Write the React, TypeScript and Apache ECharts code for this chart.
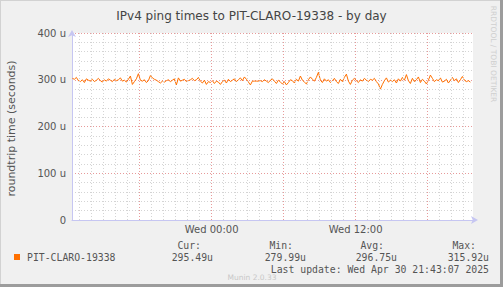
import React, { useEffect, useRef } from "react";
import * as echarts from "echarts";

// Time axis in hours relative to Wed 00:00
const axisMinHour = -11.633;
const axisMaxHour = 21.783;
const dataStartHour = -11.6;
const dataStepHour = 1 / 6;

// roundtrip time in microseconds, one value every 10 minutes
const pingValues: number[] = [
  303, 301, 305, 298, 296, 300, 294, 302, 299, 297, 301, 296, 299, 303, 298, 295, 300, 297, 302, 299,
  296, 301, 298, 300, 304, 297, 299, 295, 301, 308, 290, 296, 302, 313, 299, 297, 300, 294, 298, 309,
  304, 301, 299, 296, 293, 297, 295, 298, 300, 296, 299, 302, 289, 304, 297, 299, 301, 296, 298, 300,
  303, 298, 300, 305, 297, 293, 299, 290, 296, 294, 298, 292, 297, 295, 290, 296, 299, 293, 301, 296,
  299, 302, 296, 300, 304, 298, 306, 301, 295, 289, 297, 297, 297, 297, 298, 296, 300, 297, 294, 299,
  302, 297, 292, 299, 295, 291, 296, 289, 294, 300, 298, 293, 301, 297, 308, 299, 295, 291, 300, 306,
  301, 297, 305, 316, 299, 294, 302, 297, 300, 294, 298, 303, 296, 292, 301, 296, 305, 312, 297, 290,
  299, 303, 298, 294, 300, 297, 303, 299, 296, 301, 299, 303, 296, 291, 280, 290, 298, 304, 295, 299,
  296, 300, 293, 302, 297, 305, 299, 311, 298, 292, 303, 296, 300, 306, 294, 301, 297, 291, 299, 310,
  303, 296, 300, 298, 304, 295, 297, 301, 293, 299, 305, 298, 302, 294, 300, 307, 299, 296, 298, 295,
];

const minorHours: number[] = [
  -11, -10, -9, -8, -7, -5, -4, -3, -2, -1, 1, 2, 3, 4, 5, 7, 8, 9, 10, 11,
  13, 14, 15, 16, 17, 19, 20, 21,
];
const majorHours: number[] = [-6, 0, 6, 12, 18];
const xLabelHours: number[] = [0, 12];
const xLabelTexts: string[] = ["Wed 00:00", "Wed 12:00"];

const yTickValues: number[] = [0, 100, 200, 300, 400];
const yTickLabels: string[] = ["0", "100 u", "200 u", "300 u", "400 u"];

const titleText = "IPv4 ping times to PIT-CLARO-19338 - by day";
const yAxisTitle = "roundtrip time (seconds)";
const seriesName = "PIT-CLARO-19338";
const statHeaders: string[] = ["Cur:", "Min:", "Avg:", "Max:"];
const statValues: string[] = ["295.49u", "279.99u", "296.75u", "315.92u"];
const lastUpdate = "Last update: Wed Apr 30 21:43:07 2025";
const muninVersion = "Munin 2.0.33";
const rrdCredit = "RRDTOOL / TOBI OETIKER";

const LINE_COLOR = "#ff7000";
const MONO = "'DejaVu Sans Mono', monospace";
const SANS = "'DejaVu Sans', sans-serif";

export default function App() {
  const ref = useRef<HTMLDivElement>(null);

  useEffect(() => {
    if (!ref.current) return;
    const chart = echarts.init(ref.current, undefined, { renderer: "svg" });

    const seriesData = pingValues.map((v, i) => [dataStartHour + i * dataStepHour, v]);

    const gridMarks: any[] = [
      ...minorHours.map((h) => ({
        xAxis: h,
        lineStyle: { color: "#d4d4d4", type: [1, 2], width: 1 },
        label: { show: false },
      })),
      ...majorHours.map((h) => {
        const li = xLabelHours.indexOf(h);
        return {
          xAxis: h,
          lineStyle: { color: "#e79a9a", type: [1, 2], width: 1 },
          label:
            li >= 0
              ? {
                  show: true,
                  position: "start",
                  formatter: xLabelTexts[li],
                  color: "#555",
                  fontFamily: SANS,
                  fontSize: 10,
                  distance: 4,
                }
              : { show: false },
        };
      }),
    ];

    const statRightEdges = [213, 306, 397, 489];
    const headerRightEdges = [201, 293, 384, 476];

    const graphics: any[] = [
      { type: "rect", shape: { x: 0, y: 0, width: 503, height: 1 }, style: { fill: "#d2d2d2" }, silent: true },
      { type: "rect", shape: { x: 0, y: 0, width: 1, height: 287 }, style: { fill: "#d2d2d2" }, silent: true },
      { type: "rect", shape: { x: 500, y: 0, width: 3, height: 287 }, style: { fill: "#9c9c9c" }, silent: true },
      { type: "rect", shape: { x: 0, y: 284, width: 503, height: 3 }, style: { fill: "#9c9c9c" }, silent: true },
      {
        type: "text",
        x: 11,
        y: 128.5,
        rotation: Math.PI / 2,
        style: {
          text: yAxisTitle,
          fill: "#555",
          font: `11px ${SANS}`,
          textAlign: "center",
          textVerticalAlign: "middle",
        },
      },
      {
        type: "text",
        x: 493,
        y: 54,
        rotation: -Math.PI / 2,
        style: {
          text: rrdCredit,
          fill: "#cfcfcf",
          font: `7.5px ${SANS}`,
          textAlign: "center",
          textVerticalAlign: "middle",
        },
      },
      { type: "rect", shape: { x: 14, y: 254, width: 6, height: 6 }, style: { fill: LINE_COLOR } },
      {
        type: "text",
        x: 27,
        y: 257,
        style: { text: seriesName, fill: "#555", font: `9.8px ${MONO}`, textVerticalAlign: "middle" },
      },
      ...statHeaders.map((t, i) => ({
        type: "text",
        x: headerRightEdges[i],
        y: 245,
        style: { text: t, fill: "#555", font: `9.8px ${MONO}`, textAlign: "right", textVerticalAlign: "middle" },
      })),
      ...statValues.map((t, i) => ({
        type: "text",
        x: statRightEdges[i],
        y: 257,
        style: { text: t, fill: "#555", font: `9.8px ${MONO}`, textAlign: "right", textVerticalAlign: "middle" },
      })),
      {
        type: "text",
        x: 489,
        y: 269,
        style: { text: lastUpdate, fill: "#555", font: `9.8px ${MONO}`, textAlign: "right", textVerticalAlign: "middle" },
      },
      {
        type: "text",
        x: 252,
        y: 277,
        style: { text: muninVersion, fill: "#c8c8c8", font: `7.5px ${SANS}`, textAlign: "center", textVerticalAlign: "middle" },
      },
    ];

    chart.setOption({
      animation: false,
      backgroundColor: "#f0f0f0",
      title: {
        text: titleText,
        left: "center",
        top: 5,
        textStyle: { color: "#444", fontFamily: SANS, fontSize: 12, fontWeight: "normal" },
      },
      grid: {
        left: 72,
        top: 33,
        width: 401,
        height: 187,
        show: true,
        backgroundColor: "#ffffff",
        borderWidth: 0,
      },
      xAxis: {
        type: "value",
        min: axisMinHour,
        max: axisMaxHour,
        axisLine: {
          show: true,
          onZero: false,
          lineStyle: { color: "#c6c6f2", width: 1 },
          symbol: ["none", "arrow"],
          symbolSize: [6, 7],
          symbolOffset: [0, 5],
        },
        axisTick: { show: false },
        axisLabel: { show: false },
        splitLine: { show: false },
      },
      yAxis: {
        type: "value",
        min: 0,
        max: 400,
        interval: 20,
        axisLine: {
          show: true,
          onZero: false,
          lineStyle: { color: "#c6c6f2", width: 1 },
          symbol: ["none", "arrow"],
          symbolSize: [6, 7],
          symbolOffset: [0, 3],
        },
        axisTick: { show: false },
        axisLabel: {
          color: "#555",
          fontFamily: SANS,
          fontSize: 10,
          margin: 6,
          formatter: (v: number) => {
            const idx = yTickValues.indexOf(v);
            return idx >= 0 ? yTickLabels[idx] : "";
          },
        },
        splitLine: {
          show: true,
          lineStyle: {
            color: ["#e79a9a", "#d4d4d4", "#d4d4d4", "#d4d4d4", "#d4d4d4"],
            type: [1, 2],
            width: 1,
          },
        },
      },
      graphic: graphics,
      series: [
        {
          type: "line",
          name: "grid",
          data: seriesData,
          showSymbol: false,
          symbol: "none",
          lineStyle: { opacity: 0 },
          silent: true,
          z: 1,
          markLine: {
            silent: true,
            symbol: ["none", "none"],
            animation: false,
            data: gridMarks,
          },
        },
        {
          type: "line",
          name: seriesName,
          data: seriesData,
          showSymbol: false,
          symbol: "none",
          lineStyle: { color: LINE_COLOR, width: 1 },
          z: 3,
        },
      ],
    });

    return () => chart.dispose();
  }, []);

  return (
    <div
      ref={ref}
      style={{ position: "absolute", left: 0, top: 0, width: 503, height: 287 }}
    />
  );
}
